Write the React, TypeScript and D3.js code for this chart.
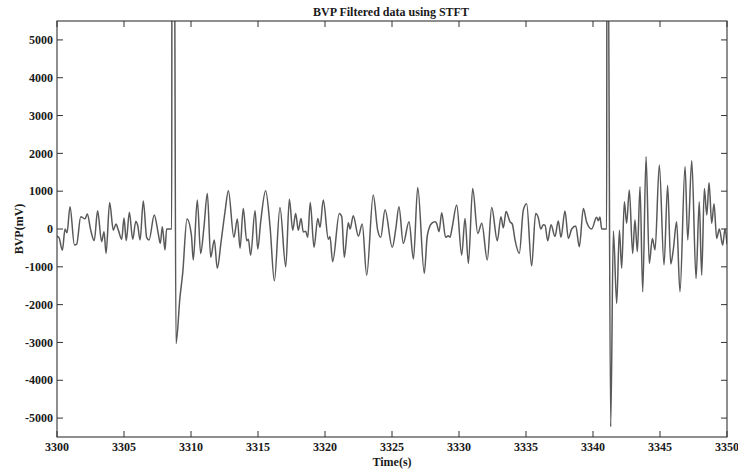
import React from 'react';
import * as d3 from 'd3';

const times = [
  3300.0, 3300.15, 3300.4, 3300.6, 3300.75, 3300.97, 3301.3, 3301.47, 3301.77, 3302.09,
  3302.26, 3302.51, 3302.78, 3303.03, 3303.33, 3303.51, 3303.66, 3303.93, 3304.2, 3304.4,
  3304.58, 3304.83, 3305.0, 3305.17, 3305.4, 3305.65, 3305.88, 3306.02, 3306.2, 3306.44,
  3306.69, 3306.87, 3307.26, 3307.56, 3307.71, 3307.86, 3308.06, 3308.18, 3308.56, 3308.58,
  3308.75, 3308.88, 3309.18, 3309.38, 3309.7, 3310.03, 3310.17, 3310.47, 3310.72, 3310.97,
  3311.22, 3311.47, 3311.74, 3311.96, 3312.25, 3312.54, 3312.79, 3313.2, 3313.46, 3313.66,
  3313.9, 3314.16, 3314.28, 3314.45, 3314.78, 3314.98, 3315.2, 3315.57, 3315.9, 3316.22,
  3316.64, 3317.07, 3317.34, 3317.59, 3317.81, 3318.01, 3318.21, 3318.38, 3318.56, 3318.71,
  3318.9, 3319.18, 3319.46, 3319.63, 3319.87, 3320.25, 3320.37, 3320.57, 3321.07, 3321.25,
  3321.44, 3321.74, 3321.87, 3322.11, 3322.49, 3322.78, 3323.11, 3323.6, 3323.93, 3324.16,
  3324.48, 3325.02, 3325.28, 3325.52, 3325.84, 3326.27, 3326.6, 3326.92, 3327.41, 3327.63,
  3327.96, 3328.21, 3328.33, 3328.51, 3328.71, 3329.0, 3329.2, 3329.33, 3329.5, 3329.83,
  3330.2, 3330.45, 3330.7, 3331.02, 3331.4, 3331.7, 3332.11, 3332.44, 3332.86, 3333.13,
  3333.31, 3333.51, 3333.81, 3333.98, 3334.18, 3334.5, 3334.8, 3335.05, 3335.42, 3335.72,
  3335.92, 3336.1, 3336.29, 3336.42, 3336.62, 3336.87, 3337.16, 3337.41, 3337.61, 3337.91,
  3338.16, 3338.41, 3338.71, 3338.98, 3339.28, 3339.53, 3339.9, 3340.27, 3340.4, 3340.52,
  3340.65, 3341.02, 3341.04, 3341.11, 3341.32, 3341.52, 3341.77, 3341.97, 3342.14, 3342.34,
  3342.51, 3342.71, 3342.96, 3343.13, 3343.31, 3343.51, 3343.71, 3343.96, 3344.2, 3344.43,
  3344.63, 3344.95, 3345.3, 3345.57, 3345.8, 3345.99, 3346.24, 3346.49, 3346.87, 3347.07,
  3347.37, 3347.69, 3347.93, 3348.11, 3348.31, 3348.49, 3348.66, 3348.86, 3349.03, 3349.23,
  3349.43, 3349.68, 3349.85, 3350.0,
];

const values = [
  -190, -230, -560, 0, -100, 590, -420, -400, 325, 270,
  395, -20, -310, 480, -335, -70, -645, 700, -30, 130,
  -30, -270, 290, -310, 440, -270, 200, 100, -290, 740,
  -220, -290, 370, -130, -380, 60, -555, 0, 0, 9000,
  9000, -3030, -1790, -1170, 265, -160, -820, 770, -645, 60,
  940, -750, -290, -1040, -320, 460, 1010, -220, 265, -510,
  540, -310, -270, -690, 480, -530, 190, 1010, 60, -1370,
  570, -1000, 785, -30, 410, -30, 280, -80, -60, -220,
  700, -485, 280, 40, 765, -270, -200, -865, 410, 325,
  -750, 165, 0, 350, -190, 130, -1220, 900, -30, -220,
  510, -485, 0, 590, -380, 195, -795, 1100, -1170, -185,
  150, 190, 150, -70, 430, -220, -180, -220, 60, 635,
  -690, 280, -910, 1070, -120, 150, -820, 570, -310, 325,
  30, 460, 190, 130, -290, -645, 500, 670, -980, 410,
  300, 0, 110, 100, -310, 110, -200, 210, -220, 475,
  -250, 0, 80, -470, 540, 180, 0, 310, 220, 320,
  0, 0, 9000, 9000, -5230, -50, -1970, -30, -1040, 720,
  150, 1030, -650, 240, -600, 1120, -1660, 1910, -910, -250,
  -555, 1690, -950, 1160, -925, -555, 190, -1660, 1650, -290,
  1810, -1310, 720, -1220, 1070, 370, 1220, 150, 670, -250,
  0, -425, 0, -400,
];

const xTicks = [3300, 3305, 3310, 3315, 3320, 3325, 3330, 3335, 3340, 3345, 3350];
const yTicks = [-5000, -4000, -3000, -2000, -1000, 0, 1000, 2000, 3000, 4000, 5000];
const titleText = 'BVP Filtered data using STFT';
const xLabel = 'Time(s)';
const yLabel = 'BVP(mV)';

export default function App() {
  const W = 738;
  const H = 475;
  const m = { l: 57, r: 11, t: 21, b: 38 };
  const x = d3.scaleLinear().domain([3300, 3350]).range([m.l, W - m.r]);
  const y = d3.scaleLinear().domain([-5500, 5500]).range([H - m.b, m.t]);
  const data: [number, number][] = times.map((t, i) => [t, values[i]]);
  const line = d3
    .line<[number, number]>()
    .x((d) => x(d[0]))
    .y((d) => y(d[1]))
    .curve(d3.curveMonotoneX);
  const font = '"Liberation Serif", "Times New Roman", serif';
  const axisColor = '#333';
  const textColor = '#1a1a1a';
  const fs = 12;
  const tl = 6;
  const x0 = m.l, x1 = W - m.r, y0 = H - m.b, y1 = m.t;
  return (
    <div style={{ position: 'absolute', left: 0, top: 0 }}>
      <svg width={W} height={H} style={{ display: 'block', background: '#fff' }}>
        <defs>
          <clipPath id="plotclip">
            <rect x={x0} y={y1} width={x1 - x0} height={y0 - y1} />
          </clipPath>
        </defs>
        <path d={line(data) || ''} fill="none" stroke="#595959" strokeWidth={1.5} clipPath="url(#plotclip)" strokeLinejoin="round" />
        <rect x={x0} y={y1} width={x1 - x0} height={y0 - y1} fill="none" stroke={axisColor} strokeWidth={1.1} />
        {xTicks.map((t) => (
          <g key={'x' + t}>
            <line x1={x(t)} x2={x(t)} y1={y0} y2={y0 - tl} stroke={axisColor} />
            <line x1={x(t)} x2={x(t)} y1={y1} y2={y1 + tl} stroke={axisColor} />
            <text x={x(t)} y={y0 + 14} textAnchor="middle" fontFamily={font} fontWeight="bold" fontSize={fs} fill={textColor}>
              {t}
            </text>
          </g>
        ))}
        {yTicks.map((t) => (
          <g key={'y' + t}>
            <line x1={x0} x2={x0 + tl} y1={y(t)} y2={y(t)} stroke={axisColor} />
            <line x1={x1} x2={x1 - tl} y1={y(t)} y2={y(t)} stroke={axisColor} />
            <text x={x0 - 4} y={y(t) + 4.2} textAnchor="end" fontFamily={font} fontWeight="bold" fontSize={fs} fill={textColor}>
              {t}
            </text>
          </g>
        ))}
        <text x={(x0 + x1) / 2 - 1} y={15.5} textAnchor="middle" fontFamily={font} fontWeight="bold" fontSize={fs} fill={textColor}>
          {titleText}
        </text>
        <text x={(x0 + x1) / 2} y={466} textAnchor="middle" fontFamily={font} fontWeight="bold" fontSize={fs} fill={textColor}>
          {xLabel}
        </text>
        <text transform={`translate(22.5, ${(y0 + y1) / 2}) rotate(-90)`} textAnchor="middle" fontFamily={font} fontWeight="bold" fontSize={fs} fill={textColor}>
          {yLabel}
        </text>
      </svg>
    </div>
  );
}
